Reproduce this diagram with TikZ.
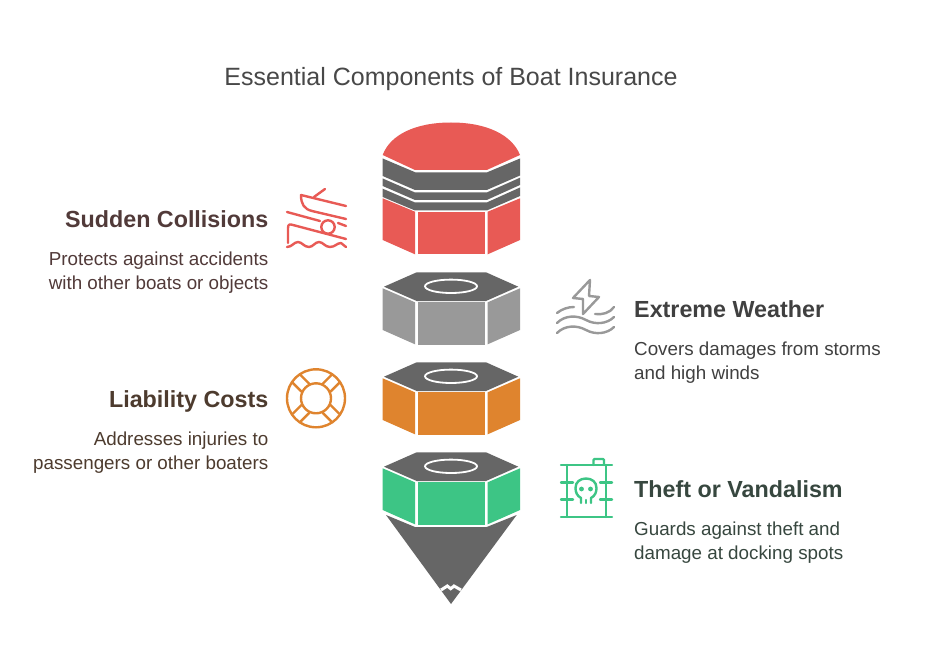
\documentclass[tikz,border=0pt]{standalone}
\usepackage{fontspec}
\setmainfont{Liberation Sans}
\definecolor{redfill}{HTML}{E85A55}
\definecolor{grayfill}{HTML}{999999}
\definecolor{orangefill}{HTML}{DF842E}
\definecolor{greenfill}{HTML}{3DC585}
\definecolor{darkfill}{HTML}{666666}
\definecolor{titletext}{HTML}{484848}
\definecolor{redtext}{HTML}{513A39}
\definecolor{graytext}{HTML}{404040}
\definecolor{orangetext}{HTML}{4D3B2E}
\definecolor{greentext}{HTML}{37473F}
\tikzset{
  headleft/.style={anchor=base east,inner sep=0pt,font=\fontsize{23.3}{28}\selectfont\bfseries},
  headright/.style={anchor=base west,inner sep=0pt,font=\fontsize{23.3}{28}\selectfont\bfseries},
  bodyleft/.style={anchor=north east,inner sep=0pt,align=right,font=\fontsize{18.8}{24}\selectfont},
  bodyright/.style={anchor=north west,inner sep=0pt,align=left,font=\fontsize{18.8}{24}\selectfont},
  icon/.style={line width=2.4pt,line cap=round,line join=round}
}
% one nut: dark top with ring, three faces; #1 shift in y, #2 colour
\newcommand{\nutbody}[2]{
  \fill[darkfill] (416.7,272.3+#1) -- (486,272.3+#1) -- (518.3,286.7+#1) -- (486,301+#1) -- (416.7,301+#1) -- (384,286.7+#1) -- cycle;
  \draw[white,line width=1.8pt] (451,286.3+#1) ellipse (26 and 6.7);
  \fill[#2] (382.7,288.3+#1) -- (415,302.3+#1) -- (415,344.3+#1) -- (382.7,330+#1) -- cycle;
  \fill[#2] (417.7,302.3+#1) rectangle (485,345+#1);
  \fill[#2] (520,288.3+#1) -- (487.7,302.3+#1) -- (487.7,344.3+#1) -- (520,330+#1) -- cycle;
}
\begin{document}
\begin{tikzpicture}[x=1pt,y=-1pt]
\useasboundingbox (0,0) rectangle (933,668);
\fill[white] (0,0) rectangle (933,668);
\node[anchor=base,inner sep=0pt,text=titletext,font=\fontsize{25}{28}\selectfont] (title) at (451,86) {Essential Components of Boat Insurance};

% top cap
\fill[redfill] (382.7,155) .. controls (390,135) and (415,122.5) .. (451,122.5) .. controls (487,122.5) and (512,135) .. (520,155) -- (486.7,170) -- (415,170) -- cycle;
\fill[darkfill] (382.7,158.5) -- (415.7,172.5) -- (486.7,172.5) -- (520,158.5) -- (520,175.5) -- (486.7,190) -- (415,190) -- (382.7,176) -- cycle;
\fill[darkfill] (382.7,178.5) -- (415,192.5) -- (486.7,192.5) -- (520,177.7) -- (520,185) -- (486.7,200) -- (415,200) -- (382.7,186) -- cycle;
\fill[darkfill] (382.7,188.7) -- (415,202.5) -- (486.7,202.5) -- (520,187.5) -- (520,196) -- (486.7,210.5) -- (415,210.5) -- (382.7,197) -- cycle;
\fill[redfill] (382.7,198.3) -- (415,211.7) -- (415,254.3) -- (382.7,240) -- cycle;
\fill[redfill] (417.7,212.3) rectangle (485,254.3);
\fill[redfill] (520,198.3) -- (487.7,211.7) -- (487.7,254.3) -- (520,240) -- cycle;

\nutbody{0}{grayfill}
\nutbody{90}{orangefill}
\nutbody{180}{greenfill}

% point
\fill[darkfill] (386,515) -- (415,527) -- (486.7,527) -- (516.7,515) -- (451,604) -- cycle;
\draw[white,line width=3pt] (441,590) -- (447.3,586) -- (450.7,588.7) -- (454,586) -- (461,590);

% boat
\begin{scope}[shift={(275,180)},icon,redfill]
\draw (26,15) .. controls (26,24) and (29,29) .. (37,31) -- (71,39);
\draw (26,15) -- (71,26);
\draw (39,17) -- (50,9);
\draw (12,32) -- (45,41);
\draw (63,43) -- (71,46);
\draw (53,47) circle (6.7);
\draw (13,63) -- (13,48) .. controls (13,44) and (15,44) .. (18,45) -- (71,59);
\draw (12,67) .. controls (17,67) and (19,62) .. (23,62) .. controls (27,62) and (29,67) .. (34,67) .. controls (38,67) and (40,62) .. (44,62) .. controls (48,62) and (50,67) .. (55,67) .. controls (60,67) and (62,63) .. (66,63) -- (71,67);
\end{scope}

% weather
\begin{scope}[shift={(550,275)},icon,grayfill]
\draw (40,5) -- (23,23) -- (33,24) -- (33,39) -- (49,22) -- (39,21) -- cycle;
\draw (7,38) .. controls (12,34) and (18,32) .. (24,32);
\draw (45,39) .. controls (52,40) and (60,38) .. (64,32);
\draw (7,48) .. controls (15,40) and (27,40) .. (36,45) .. controls (45,50) and (57,49) .. (64,42);
\draw (7,58) .. controls (15,50) and (27,50) .. (36,55) .. controls (45,60) and (57,59) .. (64,52);
\end{scope}

% lifebuoy
\begin{scope}[shift={(316,398.3)},icon,orangefill]
\draw (0,0) circle (29);
\draw (0,0) circle (15);
\foreach \a in {45,135,225,315} {
  \draw[rotate=\a] (15,-5.5) -- (27.5,-5.5);
  \draw[rotate=\a] (15,5.5) -- (27.5,5.5);
}
\end{scope}

% barrel
\begin{scope}[shift={(550,455)},icon,greenfill]
\draw (11,10) -- (62,10);
\draw (11,62) -- (62,62);
\draw (17,10) -- (17,62);
\draw (56,10) -- (56,62);
\draw (11,27.5) -- (23,27.5);
\draw (50,27.5) -- (62,27.5);
\draw (11,44.5) -- (23,44.5);
\draw (50,44.5) -- (62,44.5);
\draw[rounded corners=1pt] (43.5,10) -- (43.5,4) -- (54,4) -- (54,10);
\draw (31,48) -- (31,43) .. controls (27,41) and (25.5,37) .. (25.5,33) .. controls (25.5,27) and (30,23.5) .. (36,23.5) .. controls (42,23.5) and (46.5,27) .. (46.5,33) .. controls (46.5,37) and (45,41) .. (41,43) -- (41,48);
\draw (36,45) -- (36,48);
\fill (31.5,34) circle (2.4);
\fill (40.5,34) circle (2.4);
\end{scope}

% labels
\node[headleft,text=redtext] (collisions) at (268.5,227.5) {Sudden Collisions};
\node[bodyleft,text=redtext] (collisionsbody) at (268.5,252) {Protects against accidents\\with other boats or objects};
\node[headright,text=graytext] (weather) at (634,317.5) {Extreme Weather};
\node[bodyright,text=graytext] (weatherbody) at (634,342) {Covers damages from storms\\and high winds};
\node[headleft,text=orangetext] (liability) at (268.5,407.5) {Liability Costs};
\node[bodyleft,text=orangetext] (liabilitybody) at (268.5,432) {Addresses injuries to\\passengers or other boaters};
\node[headright,text=greentext] (theft) at (634,497.5) {Theft or Vandalism};
\node[bodyright,text=greentext] (theftbody) at (634,522) {Guards against theft and\\damage at docking spots};
\end{tikzpicture}
\end{document}
